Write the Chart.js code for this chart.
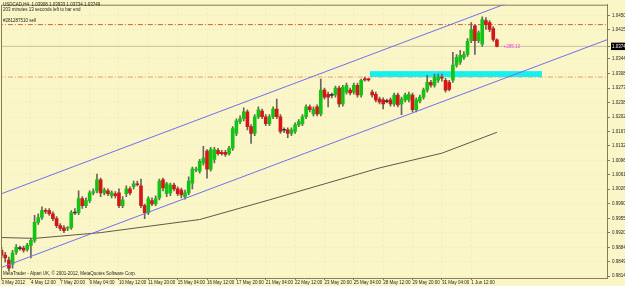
<!DOCTYPE html>
<html>
<head>
<meta charset="UTF-8">
<title>USDCAD,H4</title>
<script src="https://cdn.jsdelivr.net/npm/chart.js"></script>
<style>
  html, body { margin: 0; padding: 0; background: #faf6c8; }
</style>
</head>
<body>
<canvas id="chart" width="625" height="286"></canvas>
<script>
// H4 candles (bar 0 = 3 May 2012 04:00)
const opens = [0.9877,0.9865,0.9853,0.9843,0.9872,0.9882,0.9882,0.9879,0.9889,0.9901,
  0.9945,0.9957,0.9974,0.9974,0.9966,0.9954,0.9937,0.9932,0.9930,0.9932,
  0.9969,0.9969,1.0003,0.9986,0.9998,1.0017,1.0022,1.0049,1.0017,1.0022,
  1.0010,1.0015,1.0017,0.9986,1.0015,1.0027,1.0032,1.0039,1.0034,0.9986,
  0.9969,0.9998,0.9990,1.0005,1.0049,1.0015,1.0017,1.0036,1.0027,1.0024,
  1.0007,1.0017,1.0041,1.0073,1.0070,1.0090,1.0119,1.0075,1.0099,1.0121,
  1.0116,1.0116,1.0113,1.0126,1.0162,1.0191,1.0198,1.0215,1.0179,1.0162,
  1.0203,1.0217,1.0203,1.0186,1.0203,1.0222,1.0203,1.0171,1.0171,1.0162,
  1.0167,1.0183,1.0186,1.0203,1.0227,1.0210,1.0227,1.0210,1.0268,1.0258,
  1.0256,1.0256,1.0273,1.0234,1.0263,1.0268,1.0263,1.0280,1.0256,1.0295,
  1.0295,1.0263,1.0258,1.0246,1.0244,1.0241,1.0244,1.0234,1.0256,1.0234,
  1.0244,1.0244,1.0256,1.0220,1.0241,1.0251,1.0268,1.0287,1.0280,1.0292,
  1.0300,1.0292,1.0287,1.0292,1.0329,1.0336,1.0348,1.0355,1.0389,1.0425,
  1.0389,1.0380,1.0438,1.0433,1.0418,1.03908];
const highs = [0.9884,0.9872,0.9860,0.9877,0.9891,0.9887,0.9887,0.9894,0.9906,0.9962,
  0.9966,0.9983,0.9979,0.9979,0.9971,0.9959,0.9942,0.9937,0.9935,0.9974,
  0.9979,1.0022,1.0008,1.0005,1.0022,1.0027,1.0063,1.0053,1.0029,1.0027,
  1.0022,1.0020,1.0027,1.0008,1.0034,1.0032,1.0046,1.0046,1.0051,0.9990,
  1.0008,1.0005,1.0010,1.0051,1.0053,1.0043,1.0041,1.0041,1.0032,1.0029,
  1.0024,1.0056,1.0080,1.0080,1.0099,1.0131,1.0123,1.0128,1.0128,1.0126,
  1.0121,1.0121,1.0131,1.0179,1.0198,1.0205,1.0225,1.0220,1.0184,1.0208,
  1.0227,1.0222,1.0208,1.0208,1.0227,1.0246,1.0208,1.0176,1.0176,1.0176,
  1.0188,1.0196,1.0208,1.0232,1.0232,1.0227,1.0232,1.0295,1.0273,1.0263,
  1.0261,1.0278,1.0278,1.0280,1.0285,1.0273,1.0285,1.0285,1.0295,1.0300,
  1.0297,1.0268,1.0263,1.0251,1.0249,1.0246,1.0249,1.0261,1.0261,1.0251,
  1.0261,1.0263,1.0261,1.0249,1.0256,1.0273,1.0304,1.0292,1.0307,1.0307,
  1.0307,1.0297,1.0292,1.0360,1.0355,1.0365,1.0362,1.0394,1.0433,1.0428,
  1.0413,1.0447,1.0445,1.0438,1.0423,1.03933];
const lows = [0.9858,0.9848,0.9826,0.9833,0.9867,0.9877,0.9872,0.9875,0.9858,0.9896,
  0.9940,0.9952,0.9966,0.9962,0.9949,0.9932,0.9925,0.9920,0.9925,0.9928,
  0.9964,0.9964,0.9979,0.9981,0.9993,1.0012,1.0017,1.0008,1.0012,1.0010,
  1.0005,1.0005,0.9981,0.9981,1.0008,1.0012,1.0027,1.0034,0.9981,0.9954,
  0.9964,0.9986,0.9986,1.0000,1.0022,1.0008,1.0010,1.0022,1.0010,1.0005,
  1.0002,1.0012,1.0027,1.0068,1.0065,1.0085,1.0053,1.0070,1.0090,1.0109,
  1.0109,1.0106,1.0109,1.0121,1.0157,1.0186,1.0193,1.0171,1.0138,1.0157,
  1.0198,1.0198,1.0181,1.0181,1.0198,1.0198,1.0162,1.0164,1.0152,1.0157,
  1.0162,1.0179,1.0181,1.0198,1.0215,1.0205,1.0205,1.0205,1.0246,1.0227,
  1.0249,1.0251,1.0227,1.0229,1.0258,1.0256,1.0258,1.0251,1.0251,1.0290,
  1.0290,1.0251,1.0239,1.0234,1.0222,1.0237,1.0229,1.0229,1.0227,1.0208,
  1.0239,1.0239,1.0215,1.0215,1.0237,1.0246,1.0263,1.0275,1.0275,1.0287,
  1.0290,1.0263,1.0266,1.0287,1.0324,1.0331,1.0343,1.0350,1.0384,1.0355,
  1.0384,1.0375,1.0416,1.0411,1.0387,1.03734];
const closes = [0.9865,0.9858,0.9833,0.9870,0.9884,0.9881,0.9877,0.9889,0.9901,0.9945,
  0.9957,0.9974,0.9972,0.9966,0.9954,0.9937,0.9930,0.9925,0.9932,0.9969,
  0.9968,1.0003,0.9986,0.9998,1.0017,1.0020,1.0049,1.0017,1.0024,1.0015,
  1.0017,1.0010,0.9986,1.0000,1.0027,1.0017,1.0039,1.0037,0.9986,0.9969,
  1.0003,0.9990,1.0003,1.0046,1.0029,1.0039,1.0036,1.0027,1.0015,1.0012,
  1.0017,1.0046,1.0075,1.0075,1.0094,1.0102,1.0075,1.0123,1.0123,1.0113,
  1.0113,1.0111,1.0126,1.0174,1.0193,1.0198,1.0215,1.0179,1.0162,1.0203,
  1.0220,1.0203,1.0186,1.0203,1.0222,1.0203,1.0167,1.0170,1.0162,1.0171,
  1.0183,1.0191,1.0203,1.0227,1.0220,1.0222,1.0210,1.0268,1.0251,1.0251,
  1.0255,1.0273,1.0234,1.0275,1.0280,1.0261,1.0280,1.0256,1.0292,1.0293,
  1.0293,1.0256,1.0244,1.0239,1.0234,1.0240,1.0234,1.0256,1.0232,1.0246,
  1.0256,1.0258,1.0220,1.0244,1.0251,1.0268,1.0287,1.0280,1.0300,1.0300,
  1.0297,1.0268,1.0270,1.0329,1.0348,1.0353,1.0355,1.0387,1.0416,1.0389,
  1.0408,1.0440,1.0428,1.0416,1.0392,1.03749];

// moving average, read at a few bars
const maIdx = [0, 9, 27, 54, 73, 103, 120, 135];
const maVals = [0.9908, 0.9906, 0.9920, 0.9952, 1.0000, 1.0078, 1.0114, 1.0165];

// channel lines (two points each)
const chanIdx = [0, 165];
const chanUpper = [1.0015, 1.0572];
const chanLower = [0.9835, 1.0391];

// levels and zone
const sellLevel = 1.0428;
const tpLevel = 1.0300;
const bidLevel = 1.03749;
const zoneIdx = [100.4, 147.3];
const zoneHigh = 1.0313;
const zoneLow = 1.0300;

// axes
const priceTicks = [1.045, 1.0415, 1.03749, 1.0344, 1.0308, 1.0273, 1.0238, 1.0202, 1.0167,
  1.0132, 1.0096, 1.0061, 1.0026, 0.9990, 0.9955, 0.9920, 0.9884, 0.9849, 0.9814];
const timeTickIdx = [0, 8, 16, 24, 32, 40, 48, 56, 64, 72, 80, 88, 96, 104, 112, 120, 128];
const timeTickLabels = ['3 May 2012', '4 May 12:00', '7 May 20:00', '9 May 04:00', '10 May 12:00',
  '11 May 20:00', '15 May 04:00', '16 May 12:00', '17 May 20:00', '21 May 04:00', '22 May 12:00',
  '23 May 20:00', '25 May 04:00', '28 May 12:00', '29 May 20:00', '31 May 04:00', '1 Jun 12:00'];

const infoLine1 = 'USDCAD,H4  1.03908 1.03933 1.03734 1.03749';
const infoLine2 = '203 minutes 13 seconds left to bar end';
const orderLabel = '#281287510 sell';
const profitLabel = '+285.13';
const copyright = 'MetaTrader - Alpari UK, \u00a9 2001-2012, MetaQuotes Software Corp.';

const bgColor = '#faf6c8';
const axisColor = '#877d55';
const gridColor = 'rgba(170,160,110,0.2)';
const textColor = '#26261e';
const fontSize = 4.5;
Chart.defaults.font.family = "'Liberation Sans', Arial, sans-serif";
Chart.defaults.font.size = fontSize;

const idx = opens.map((_, i) => i);
const wickData = idx.map(i => ({ x: i, y: [lows[i], highs[i]] }));
const bodyData = idx.map(i => ({ x: i, y: [opens[i], closes[i]] }));
const bodyColors = idx.map(i => {
  if (Math.abs(closes[i] - opens[i]) < 0.00012) return '#333';
  return closes[i] > opens[i] ? '#14c414' : '#d61616';
});

function hline(level, color, dash) {
  return { type: 'line', data: [{ x: -1, y: level }, { x: 170, y: level }],
    borderColor: color, borderWidth: 1, borderDash: dash, pointRadius: 0, order: 5 };
}

const decor = {
  id: 'decor',
  beforeDraw(chart) {
    const ctx = chart.ctx;
    ctx.save();
    ctx.fillStyle = bgColor;
    ctx.fillRect(0, 0, chart.width, chart.height);
    ctx.restore();
  },
  afterDraw(chart) {
    const ctx = chart.ctx, a = chart.chartArea;
    const x = chart.scales.x, y = chart.scales.y;
    ctx.save();
    ctx.strokeStyle = axisColor;
    ctx.lineWidth = 1;
    ctx.beginPath();
    ctx.moveTo(a.left + 0.5, a.bottom);
    ctx.lineTo(a.left + 0.5, a.top + 0.5);
    ctx.lineTo(a.right, a.top + 0.5);
    ctx.stroke();

    ctx.font = fontSize + "px 'Liberation Sans', Arial, sans-serif";
    ctx.textBaseline = 'middle';
    ctx.fillStyle = textColor;
    ctx.fillText(infoLine1, 3, 5);
    ctx.fillText(infoLine2, 3, 10);
    ctx.fillText(orderLabel, 3, y.getPixelForValue(sellLevel) - 3.5);
    ctx.fillText(copyright, 3, a.bottom - 4);
    ctx.fillStyle = '#f040f0';
    ctx.fillText(profitLabel, x.getPixelForValue(136.8), y.getPixelForValue(bidLevel));
    ctx.restore();
  }
};

new Chart(document.getElementById('chart'), {
  type: 'bar',
  data: {
    datasets: [
      { type: 'line', data: chanIdx.map((v, i) => ({ x: v, y: chanUpper[i] })),
        borderColor: '#7070ee', borderWidth: 1, pointRadius: 0, order: 0 },
      { type: 'line', data: chanIdx.map((v, i) => ({ x: v, y: chanLower[i] })),
        borderColor: '#7070ee', borderWidth: 1, pointRadius: 0, order: 0 },
      { data: bodyData, backgroundColor: bodyColors, borderWidth: 0, barThickness: 3,
        minBarLength: 1, grouped: false, order: 1 },
      { data: wickData, backgroundColor: '#66665a', borderWidth: 0, barThickness: 1,
        grouped: false, order: 2 },
      { type: 'line', data: zoneIdx.map(v => ({ x: v, y: zoneHigh })),
        borderColor: '#16f0f0', backgroundColor: '#16f0f0', borderWidth: 1,
        fill: { value: zoneLow }, pointRadius: 0, order: 3 },
      { type: 'line', data: maIdx.map((v, i) => ({ x: v, y: maVals[i] })),
        borderColor: '#5e5a48', borderWidth: 1, pointRadius: 0, order: 4 },
      hline(sellLevel, '#cf6438', [5, 2, 1, 2]),
      hline(tpLevel, '#f09a68', [5, 2, 1, 2]),
      hline(bidLevel, '#cbc2a0', [])
    ]
  },
  options: {
    responsive: false,
    animation: false,
    devicePixelRatio: 1,
    layout: { padding: { left: 1, top: 2, right: 0, bottom: 0 } },
    plugins: { legend: { display: false }, tooltip: { enabled: false } },
    scales: {
      x: {
        type: 'linear', min: -0.15, max: 165, offset: false,
        afterFit: s => { s.height = 8; },
        afterBuildTicks: s => { s.ticks = timeTickIdx.map(v => ({ value: v })); },
        grid: { offset: false, color: gridColor, tickColor: axisColor, tickLength: 2 },
        border: { color: axisColor, dash: [1, 3] },
        ticks: {
          autoSkip: false, maxRotation: 0, align: 'start', padding: 0, color: textColor,
          callback: v => timeTickLabels[timeTickIdx.indexOf(v)] || ''
        }
      },
      y: {
        position: 'right', min: 0.98092, max: 1.04766,
        afterFit: s => { s.width = 18; },
        afterBuildTicks: s => { s.ticks = priceTicks.map(v => ({ value: v })); },
        grid: { color: gridColor, tickColor: axisColor, tickLength: 3 },
        border: { color: axisColor, dash: [1, 3] },
        ticks: {
          padding: 2,
          color: c => c.tick && c.tick.value === bidLevel ? '#ffffff' : textColor,
          showLabelBackdrop: c => !!(c.tick && c.tick.value === bidLevel),
          backdropColor: '#000000',
          backdropPadding: 1,
          callback: v => v.toFixed(5)
        }
      }
    }
  },
  plugins: [decor]
});
</script>
</body>
</html>
